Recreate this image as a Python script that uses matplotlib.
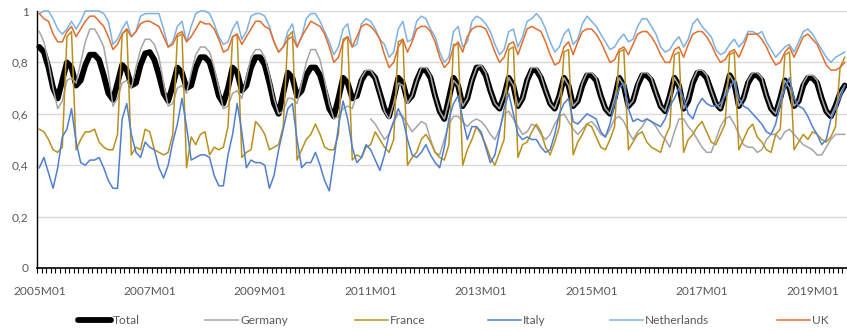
import matplotlib
matplotlib.use("Agg")
import matplotlib.pyplot as plt
import numpy as np

# monthly shares, 2005M01 .. 2019M08 (one row per year)
total = [
    0.86, 0.84, 0.78, 0.70, 0.66, 0.73, 0.80, 0.78, 0.71, 0.73, 0.79, 0.83,
    0.83, 0.81, 0.75, 0.68, 0.655, 0.72, 0.79, 0.77, 0.71, 0.72, 0.79, 0.835,
    0.84, 0.81, 0.75, 0.68, 0.65, 0.71, 0.78, 0.76, 0.70, 0.71, 0.78, 0.82,
    0.82, 0.80, 0.74, 0.67, 0.64, 0.70, 0.78, 0.76, 0.69, 0.71, 0.78, 0.82,
    0.82, 0.79, 0.72, 0.64, 0.60, 0.68, 0.76, 0.74, 0.67, 0.69, 0.75, 0.78,
    0.78, 0.75, 0.69, 0.62, 0.59, 0.66, 0.74, 0.72, 0.66, 0.67, 0.73, 0.76,
    0.76, 0.74, 0.68, 0.62, 0.59, 0.66, 0.74, 0.72, 0.65, 0.67, 0.73, 0.77,
    0.77, 0.74, 0.67, 0.61, 0.58, 0.66, 0.74, 0.71, 0.63, 0.66, 0.73, 0.78,
    0.78, 0.75, 0.69, 0.64, 0.62, 0.67, 0.74, 0.71, 0.63, 0.66, 0.73, 0.77,
    0.77, 0.74, 0.69, 0.64, 0.62, 0.67, 0.74, 0.71, 0.63, 0.65, 0.71, 0.75,
    0.75, 0.73, 0.67, 0.62, 0.60, 0.66, 0.74, 0.71, 0.63, 0.65, 0.71, 0.75,
    0.75, 0.73, 0.68, 0.63, 0.61, 0.67, 0.74, 0.71, 0.62, 0.65, 0.72, 0.76,
    0.76, 0.74, 0.69, 0.64, 0.62, 0.68, 0.75, 0.72, 0.63, 0.66, 0.72, 0.75,
    0.75, 0.73, 0.67, 0.62, 0.60, 0.66, 0.73, 0.70, 0.63, 0.65, 0.71, 0.74,
    0.74, 0.72, 0.66, 0.61, 0.59, 0.63, 0.68, 0.71,
]

germany = [
    0.92, 0.88, 0.80, 0.70, 0.62, 0.65, 0.73, 0.74, 0.72, 0.80, 0.88, 0.93,
    0.93, 0.90, 0.86, 0.76, 0.63, 0.66, 0.72, 0.73, 0.70, 0.78, 0.85, 0.89,
    0.89, 0.87, 0.82, 0.72, 0.63, 0.64, 0.70, 0.71, 0.68, 0.76, 0.83, 0.86,
    0.86, 0.84, 0.78, 0.70, 0.62, 0.63, 0.68, 0.69, 0.66, 0.74, 0.82, 0.85,
    0.85, 0.82, 0.75, 0.66, 0.60, 0.61, 0.66, 0.66, 0.64, 0.72, 0.80, 0.85,
    0.85, 0.81, 0.73, 0.64, 0.58, 0.59, 0.62, 0.63, 0.62, 0.68, 0.74, 0.77,
    0.77, 0.74, 0.68, 0.61, 0.58, 0.64, 0.72, 0.71, 0.64, 0.67, 0.73, 0.78,
    0.78, 0.75, 0.67, 0.61, 0.58, 0.65, 0.73, 0.71, 0.63, 0.66, 0.73, 0.78,
    0.79, 0.76, 0.69, 0.64, 0.62, 0.67, 0.74, 0.71, 0.63, 0.66, 0.73, 0.78,
    0.78, 0.75, 0.69, 0.64, 0.62, 0.67, 0.74, 0.71, 0.63, 0.65, 0.72, 0.76,
    0.76, 0.74, 0.67, 0.62, 0.60, 0.66, 0.74, 0.71, 0.63, 0.65, 0.72, 0.76,
    0.76, 0.74, 0.68, 0.63, 0.61, 0.67, 0.74, 0.71, 0.62, 0.66, 0.73, 0.77,
    0.77, 0.75, 0.69, 0.64, 0.62, 0.68, 0.75, 0.72, 0.63, 0.66, 0.73, 0.76,
    0.76, 0.74, 0.67, 0.62, 0.60, 0.66, 0.73, 0.70, 0.63, 0.65, 0.72, 0.75,
    0.75, 0.73, 0.66, 0.61, 0.59, 0.63, 0.68, 0.71,
]

# second grey series, only from 2011M01 (its legend entry lies outside the crop)
grey_low = [None] * 72 + [
    0.58, 0.56, 0.53, 0.50, 0.52, 0.57, 0.60, 0.59, 0.56, 0.53, 0.55, 0.57,
    0.56, 0.50, 0.45, 0.44, 0.50, 0.56, 0.59, 0.59, 0.57, 0.55, 0.57, 0.58,
    0.57, 0.55, 0.52, 0.50, 0.54, 0.60, 0.61, 0.58, 0.55, 0.52, 0.53, 0.56,
    0.55, 0.52, 0.50, 0.52, 0.56, 0.59, 0.60, 0.57, 0.54, 0.52, 0.54, 0.56,
    0.57, 0.55, 0.52, 0.51, 0.54, 0.58, 0.59, 0.57, 0.53, 0.50, 0.53, 0.55,
    0.58, 0.57, 0.55, 0.52, 0.50, 0.47, 0.53, 0.58, 0.58, 0.55, 0.53, 0.50,
    0.47, 0.45, 0.45, 0.50, 0.55, 0.58, 0.59, 0.56, 0.52, 0.48, 0.47, 0.47,
    0.45, 0.46, 0.50, 0.52, 0.52, 0.50, 0.53, 0.54, 0.52, 0.50, 0.48, 0.47,
    0.46, 0.44, 0.44, 0.47, 0.50, 0.52, 0.52, 0.52,
]

france = [
    0.54, 0.53, 0.50, 0.46, 0.45, 0.47, 0.90, 0.92, 0.46, 0.50, 0.53, 0.53,
    0.54, 0.49, 0.47, 0.46, 0.46, 0.52, 0.91, 0.93, 0.44, 0.47, 0.46, 0.54,
    0.53, 0.46, 0.45, 0.44, 0.45, 0.52, 0.90, 0.91, 0.39, 0.51, 0.48, 0.52,
    0.53, 0.44, 0.47, 0.46, 0.47, 0.55, 0.90, 0.91, 0.43, 0.45, 0.46, 0.57,
    0.55, 0.52, 0.46, 0.47, 0.48, 0.55, 0.90, 0.92, 0.42, 0.46, 0.50, 0.52,
    0.56, 0.52, 0.47, 0.46, 0.46, 0.52, 0.89, 0.90, 0.42, 0.44, 0.43, 0.47,
    0.48, 0.53, 0.50, 0.47, 0.45, 0.50, 0.88, 0.89, 0.40, 0.43, 0.45, 0.50,
    0.52, 0.49, 0.45, 0.43, 0.42, 0.48, 0.87, 0.87, 0.40, 0.46, 0.50, 0.55,
    0.52, 0.48, 0.43, 0.40, 0.45, 0.50, 0.85, 0.86, 0.43, 0.48, 0.49, 0.53,
    0.56, 0.53, 0.47, 0.44, 0.49, 0.55, 0.84, 0.85, 0.44, 0.49, 0.52, 0.56,
    0.55, 0.51, 0.47, 0.46, 0.50, 0.55, 0.84, 0.85, 0.46, 0.49, 0.52, 0.53,
    0.49, 0.47, 0.46, 0.45, 0.51, 0.55, 0.83, 0.84, 0.45, 0.50, 0.52, 0.55,
    0.57, 0.53, 0.49, 0.48, 0.52, 0.56, 0.83, 0.84, 0.46, 0.50, 0.54, 0.56,
    0.51, 0.49, 0.46, 0.45, 0.52, 0.54, 0.83, 0.84, 0.46, 0.49, 0.52, 0.50,
    0.53, 0.52, 0.50, 0.49, 0.51, 0.55, 0.78, 0.82,
]

italy = [
    0.39, 0.43, 0.37, 0.31, 0.39, 0.51, 0.54, 0.62, 0.49, 0.41, 0.40, 0.42,
    0.42, 0.43, 0.39, 0.34, 0.31, 0.31, 0.58, 0.64, 0.52, 0.45, 0.43, 0.49,
    0.47, 0.46, 0.39, 0.35, 0.40, 0.49, 0.56, 0.66, 0.55, 0.42, 0.43, 0.44,
    0.44, 0.43, 0.36, 0.32, 0.32, 0.44, 0.52, 0.64, 0.53, 0.39, 0.42, 0.41,
    0.41, 0.40, 0.31, 0.36, 0.46, 0.54, 0.62, 0.64, 0.50, 0.39, 0.41, 0.41,
    0.45, 0.40, 0.34, 0.30, 0.42, 0.55, 0.65, 0.58, 0.47, 0.41, 0.43, 0.48,
    0.46, 0.42, 0.38, 0.44, 0.52, 0.57, 0.62, 0.58, 0.50, 0.44, 0.43, 0.45,
    0.48, 0.44, 0.41, 0.39, 0.47, 0.58, 0.64, 0.67, 0.58, 0.50, 0.55, 0.55,
    0.53, 0.47, 0.41, 0.44, 0.53, 0.62, 0.68, 0.60, 0.52, 0.50, 0.51, 0.50,
    0.50, 0.47, 0.45, 0.46, 0.52, 0.60, 0.64, 0.66, 0.57, 0.56, 0.58, 0.60,
    0.59, 0.58, 0.53, 0.51, 0.56, 0.64, 0.70, 0.72, 0.62, 0.57, 0.58, 0.57,
    0.58, 0.57, 0.56, 0.55, 0.58, 0.63, 0.66, 0.70, 0.66, 0.60, 0.58, 0.63,
    0.66, 0.64, 0.63, 0.63, 0.64, 0.67, 0.70, 0.73, 0.66, 0.63, 0.62, 0.60,
    0.58, 0.56, 0.53, 0.52, 0.56, 0.64, 0.70, 0.74, 0.66, 0.63, 0.62, 0.59,
    0.55, 0.52, 0.48, 0.50, 0.58, 0.62, 0.66, 0.71,
]

netherlands = [
    0.99, 1.00, 1.00, 0.97, 0.93, 0.91, 0.93, 0.96, 0.93, 0.96, 1.00, 1.00,
    1.00, 1.00, 0.99, 0.96, 0.87, 0.89, 0.93, 0.96, 0.90, 0.92, 0.98, 0.99,
    0.99, 0.99, 0.99, 0.93, 0.86, 0.88, 0.94, 0.96, 0.88, 0.94, 0.99, 1.00,
    1.00, 0.99, 0.95, 0.90, 0.87, 0.88, 0.93, 0.96, 0.89, 0.92, 0.98, 0.99,
    0.99, 0.98, 0.94, 0.88, 0.84, 0.86, 0.92, 0.95, 0.86, 0.90, 0.97, 0.99,
    0.99, 0.96, 0.92, 0.88, 0.83, 0.86, 0.93, 0.95, 0.86, 0.87, 0.95, 0.97,
    0.96, 0.93, 0.89, 0.87, 0.82, 0.84, 0.93, 0.96, 0.88, 0.89, 0.96, 0.98,
    0.97, 0.93, 0.90, 0.84, 0.80, 0.82, 0.92, 0.94, 0.86, 0.88, 0.96, 0.98,
    0.97, 0.95, 0.92, 0.87, 0.83, 0.85, 0.92, 0.93, 0.86, 0.90, 0.96, 0.97,
    0.99, 0.97, 0.93, 0.88, 0.84, 0.86, 0.91, 0.93, 0.87, 0.89, 0.95, 0.98,
    0.96, 0.94, 0.91, 0.88, 0.85, 0.86, 0.89, 0.91, 0.88, 0.89, 0.94, 0.97,
    0.97, 0.94, 0.91, 0.86, 0.84, 0.85, 0.88, 0.90, 0.86, 0.89, 0.95, 0.97,
    0.94, 0.92, 0.90, 0.85, 0.83, 0.84, 0.87, 0.89, 0.86, 0.88, 0.92, 0.92,
    0.91, 0.92, 0.88, 0.85, 0.82, 0.84, 0.86, 0.87, 0.84, 0.88, 0.92, 0.93,
    0.91, 0.88, 0.85, 0.82, 0.80, 0.82, 0.83, 0.84,
]

uk = [
    0.99, 0.97, 0.96, 0.91, 0.88, 0.88, 0.92, 0.94, 0.90, 0.93, 0.96, 0.98,
    0.98, 0.96, 0.94, 0.90, 0.85, 0.87, 0.91, 0.93, 0.90, 0.92, 0.95, 0.96,
    0.96, 0.95, 0.94, 0.90, 0.86, 0.87, 0.91, 0.92, 0.88, 0.90, 0.93, 0.96,
    0.95, 0.95, 0.93, 0.89, 0.84, 0.85, 0.90, 0.91, 0.87, 0.90, 0.93, 0.96,
    0.96, 0.94, 0.93, 0.88, 0.84, 0.86, 0.89, 0.90, 0.86, 0.90, 0.93, 0.96,
    0.95, 0.94, 0.91, 0.86, 0.80, 0.82, 0.88, 0.90, 0.86, 0.90, 0.94, 0.95,
    0.94, 0.92, 0.89, 0.83, 0.78, 0.80, 0.86, 0.89, 0.84, 0.88, 0.93, 0.94,
    0.94, 0.92, 0.88, 0.82, 0.78, 0.80, 0.86, 0.88, 0.84, 0.90, 0.93, 0.94,
    0.94, 0.93, 0.89, 0.84, 0.80, 0.82, 0.87, 0.88, 0.83, 0.88, 0.93, 0.94,
    0.93, 0.92, 0.88, 0.83, 0.79, 0.80, 0.86, 0.88, 0.83, 0.88, 0.92, 0.93,
    0.93, 0.91, 0.88, 0.84, 0.80, 0.81, 0.85, 0.86, 0.83, 0.87, 0.91, 0.92,
    0.92, 0.90, 0.87, 0.83, 0.80, 0.80, 0.85, 0.86, 0.82, 0.87, 0.91, 0.92,
    0.92, 0.90, 0.87, 0.83, 0.80, 0.81, 0.84, 0.85, 0.82, 0.86, 0.91, 0.91,
    0.91, 0.89, 0.86, 0.82, 0.79, 0.80, 0.84, 0.86, 0.82, 0.86, 0.90, 0.91,
    0.89, 0.87, 0.83, 0.79, 0.77, 0.77, 0.78, 0.80,
]

tick_labels = ["2005M01", "2007M01", "2009M01", "2011M01",
               "2013M01", "2015M01", "2017M01", "2019M01"]
y_ticks = [0, 0.2, 0.4, 0.6, 0.8, 1.0]
y_labels = ["0", "0,2", "0,4", "0,6", "0,8", "1"]

plt.rcParams['font.family'] = ['Lato', 'DejaVu Sans']
text_col = '#595959'
fs = 8.6

n = len(total)
x = np.arange(n) + 0.5

fig = plt.figure(figsize=(8.47, 3.31), dpi=100)
ax = fig.add_axes([37 / 847, 63 / 331, 1 - 37 / 847, 257 / 331])

def to_arr(vals):
    return np.array([np.nan if v is None else v for v in vals], dtype=float)

h_total, = ax.plot(x, total, color='black', lw=4.2, solid_capstyle='round', clip_on=False)
h_ger, = ax.plot(x, germany, color='#A5A5A5', lw=1.1, clip_on=False)
ax.plot(x, to_arr(grey_low), color='#A5A5A5', lw=1.1, clip_on=False)
h_fra, = ax.plot(x, france, color='#B8901C', lw=1.1, clip_on=False)
h_ita, = ax.plot(x, italy, color='#4F7FD0', lw=1.1, clip_on=False)
h_nl, = ax.plot(x, netherlands, color='#7DB1E3', lw=1.1, clip_on=False)
h_uk, = ax.plot(x, uk, color='#E36E2C', lw=1.1, clip_on=False)

ax.set_xlim(0, n)
ax.set_ylim(0, 1)
ax.set_yticks(y_ticks)
ax.set_yticklabels(y_labels)
ax.yaxis.grid(True, color='#D9D9D9', lw=1)
ax.set_axisbelow(True)
ax.tick_params(axis='y', length=0, pad=6, labelsize=fs, labelcolor=text_col)

ax.set_xticks(np.arange(0, n, 24) + 0.5)
ax.set_xticklabels(tick_labels)
ax.set_xticks(np.arange(0, n + 1), minor=True)
ax.tick_params(axis='x', which='major', length=0, pad=13, labelsize=fs, labelcolor=text_col)
ax.tick_params(axis='x', which='minor', length=3.5, width=0.8, color='black', direction='out')

for side in ['top', 'right']:
    ax.spines[side].set_visible(False)
ax.spines['left'].set_color('black')
ax.spines['left'].set_linewidth(1.0)
ax.spines['bottom'].set_color('black')
ax.spines['bottom'].set_linewidth(1.2)

# legend entries placed one by one, like the Excel legend row
entries = [(h_total, 'Total', 78), (h_ger, 'Germany', 205), (h_fra, 'France', 355),
           (h_ita, 'Italy', 488), (h_nl, 'Netherlands', 610), (h_uk, 'UK', 777)]
for h, lab, px in entries:
    leg = fig.legend([h], [lab], loc='center left', bbox_to_anchor=(px / 847, 10 / 331),
                     frameon=False, borderpad=0, borderaxespad=0, handlelength=2.8,
                     handletextpad=0.15, fontsize=fs)
    leg.get_texts()[0].set_color(text_col)

fig.savefig('out.png', dpi=100)
